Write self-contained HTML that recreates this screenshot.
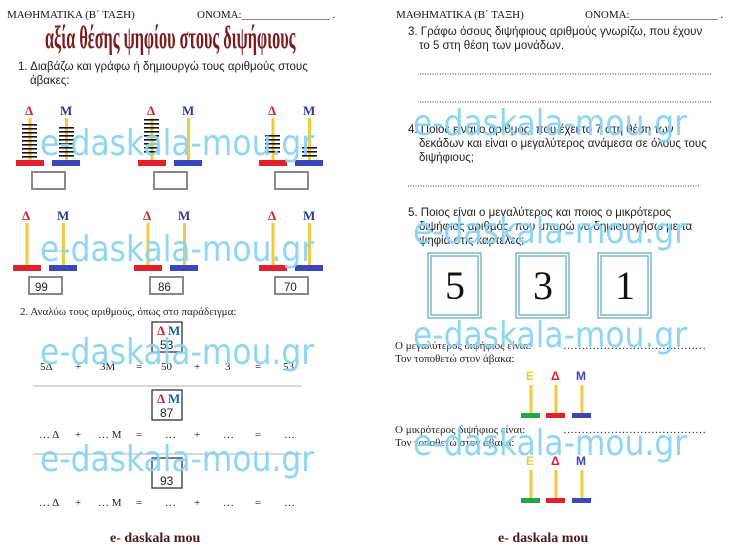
<!DOCTYPE html>
<html><head><meta charset="utf-8"><style>
html,body{margin:0;padding:0;background:#fff}
svg{display:block}
.h{font-family:"Liberation Serif",serif;font-size:11px;fill:#111}
.t{font-family:"Liberation Sans",sans-serif;font-size:11.5px;fill:#222}
.s{font-family:"Liberation Serif",serif;font-size:11px;fill:#222}
.lb{font-family:"Liberation Serif",serif;font-weight:bold;font-size:13px}
.wm{font-family:"DejaVu Sans","Liberation Sans",sans-serif;font-size:36px;fill:#8ad4f2;opacity:.95}
.ft{font-family:"Liberation Serif",serif;font-weight:bold;font-size:14px;fill:#4a1a1a}
</style></head><body>
<svg width="746" height="555" viewBox="0 0 746 555" xmlns="http://www.w3.org/2000/svg">
<defs>
<g id="abase">
 <rect x="-1.5" y="0" width="3" height="42" fill="#f5c93a"/>
 <rect x="35" y="0" width="3" height="42" fill="#f5c93a"/>
 <rect x="-14" y="42" width="28" height="6" fill="#e0202e"/>
 <rect x="22" y="42" width="28" height="6" fill="#3b46b8"/>
 <text x="-5" y="-3" class="lb" fill="#d0202e">Δ</text>
 <text x="30" y="-3" class="lb" fill="#2b3a9c">Μ</text>
</g>
<g id="bead"><rect x="-8" y="0" width="15" height="1.6" fill="#111"/></g>
</defs>

<!-- LEFT PAGE -->
<text x="7" y="18" class="h">ΜΑΘΗΜΑΤΙΚΑ (Β΄ ΤΑΞΗ)</text>
<text x="197" y="18" class="h">ΟΝΟΜΑ:________________ .</text>
<text x="0" y="0" transform="translate(45,48) scale(0.54,1.05)" font-family="Liberation Serif,serif" font-weight="bold" font-size="30" fill="#7a1a1a">αξία θέσης ψηφίου στους διψήφιους</text>
<text x="18" y="70" class="t">1. Διαβάζω και γράφω ή δημιουργώ τους αριθμούς στους</text>
<text x="30" y="84" class="t">άβακες:</text>

<!-- row 1 abacuses -->
<g transform="translate(30,118)"><use href="#abase"/>
 <g><use href="#bead" y="6"/><use href="#bead" y="10"/><use href="#bead" y="14"/><use href="#bead" y="18"/><use href="#bead" y="22"/><use href="#bead" y="26"/><use href="#bead" y="30"/><use href="#bead" y="34"/><use href="#bead" y="38"/></g>
 <g transform="translate(37,0)"><use href="#bead" y="9"/><use href="#bead" y="13"/><use href="#bead" y="17"/><use href="#bead" y="21"/><use href="#bead" y="25"/><use href="#bead" y="29"/><use href="#bead" y="33"/><use href="#bead" y="37"/></g>
</g>
<rect x="32" y="172" width="33" height="17" fill="none" stroke="#888" stroke-width="2"/>
<g transform="translate(152,118)"><use href="#abase"/>
 <g><use href="#bead" y="1"/><use href="#bead" y="5"/><use href="#bead" y="9"/><use href="#bead" y="13"/><use href="#bead" y="17"/><use href="#bead" y="21"/><use href="#bead" y="25"/><use href="#bead" y="29"/><use href="#bead" y="33"/></g>
</g>
<rect x="154" y="172" width="33" height="17" fill="none" stroke="#888" stroke-width="2"/>
<g transform="translate(273,118)"><use href="#abase"/>
 <g><use href="#bead" y="17"/><use href="#bead" y="21"/><use href="#bead" y="25"/><use href="#bead" y="29"/><use href="#bead" y="33"/></g>
 <g transform="translate(37,0)"><use href="#bead" y="29"/><use href="#bead" y="33"/><use href="#bead" y="37"/></g>
</g>
<rect x="275" y="172" width="33" height="17" fill="none" stroke="#888" stroke-width="2"/>

<!-- row 2 -->
<g transform="translate(27,223)"><use href="#abase"/></g>
<rect x="29" y="277" width="33" height="17" fill="none" stroke="#888" stroke-width="2"/>
<text x="35" y="291" class="t" font-size="13">99</text>
<g transform="translate(148,223)"><use href="#abase"/></g>
<rect x="150" y="277" width="33" height="17" fill="none" stroke="#888" stroke-width="2"/>
<text x="158" y="291" class="t" font-size="13">86</text>
<g transform="translate(273,223)"><use href="#abase"/></g>
<rect x="275" y="277" width="33" height="17" fill="none" stroke="#888" stroke-width="2"/>
<text x="284" y="291" class="t" font-size="13">70</text>

<text x="20" y="315" class="s" font-size="12">2. Αναλύω τους αριθμούς, όπως στο παράδειγμα:</text>

<g font-family="Liberation Sans,sans-serif" font-size="12" fill="#222">
<rect x="152" y="322" width="30" height="30" fill="#fff" stroke="#333" stroke-width="1.3"/>
<text x="157" y="335" class="lb" font-size="12" fill="#d0202e">Δ</text><text x="168" y="335" class="lb" font-size="12" fill="#1a5ea8">Μ</text>
<text x="160" y="349">53</text>
<g font-family="Liberation Serif,serif" font-size="11"><text x="40" y="370">5Δ</text><text x="75" y="370">+</text><text x="100" y="370">3Μ</text><text x="136" y="370">=</text><text x="161" y="370">50</text><text x="194" y="370">+</text><text x="225" y="370">3</text><text x="255" y="370">=</text><text x="283" y="370">53</text></g>
<line x1="33" y1="386" x2="302" y2="386" stroke="#ccc" stroke-width="1.5"/>
<rect x="152" y="390" width="30" height="30" fill="#fff" stroke="#333" stroke-width="1.3"/>
<text x="157" y="403" class="lb" font-size="12" fill="#d0202e">Δ</text><text x="168" y="403" class="lb" font-size="12" fill="#1a5ea8">Μ</text>
<text x="160" y="417">87</text>
<g font-family="Liberation Serif,serif" font-size="11"><text x="39" y="438">… Δ</text><text x="75" y="438">+</text><text x="98" y="438">… Μ</text><text x="136" y="438">=</text><text x="165" y="438">…</text><text x="194" y="438">+</text><text x="223" y="438">…</text><text x="255" y="438">=</text><text x="284" y="438">…</text></g>
<line x1="33" y1="454" x2="302" y2="454" stroke="#ccc" stroke-width="1.5"/>
<rect x="152" y="458" width="30" height="30" fill="#fff" stroke="#333" stroke-width="1.3"/>
<text x="160" y="485">93</text>
<g font-family="Liberation Serif,serif" font-size="11"><text x="39" y="506">… Δ</text><text x="75" y="506">+</text><text x="98" y="506">… Μ</text><text x="136" y="506">=</text><text x="165" y="506">…</text><text x="194" y="506">+</text><text x="223" y="506">…</text><text x="255" y="506">=</text><text x="284" y="506">…</text></g>
</g>
<text x="110" y="542" class="ft">e- daskala mou</text>

<!-- RIGHT PAGE -->
<text x="396" y="18" class="h">ΜΑΘΗΜΑΤΙΚΑ (Β΄ ΤΑΞΗ)</text>
<text x="585" y="18" class="h">ΟΝΟΜΑ:________________ .</text>
<text x="408" y="35" class="t">3. Γράφω όσους διψήφιους αριθμούς γνωρίζω, που έχουν</text>
<text x="419" y="49" class="t">το 5 στη θέση των μονάδων.</text>
<line x1="420" y1="74" x2="712" y2="74" stroke="#333" stroke-width="1" stroke-dasharray="1,1.5"/>
<line x1="420" y1="102" x2="712" y2="102" stroke="#333" stroke-width="1" stroke-dasharray="1,1.5"/>
<text x="408" y="133" class="t">4. Ποιος είναι ο αριθμός, που έχει το 7 στη θέση των</text>
<text x="419" y="147" class="t">δεκάδων και είναι ο μεγαλύτερος ανάμεσα σε όλους τους</text>
<text x="419" y="161" class="t">διψήφιους;</text>
<line x1="408" y1="186" x2="700" y2="186" stroke="#333" stroke-width="1" stroke-dasharray="1,1.5"/>
<text x="408" y="216" class="t">5. Ποιος είναι ο μεγαλύτερος και ποιος ο μικρότερος</text>
<text x="419" y="230" class="t">διψήφιος αριθμός, που μπορώ να δημιουργήσω με τα</text>
<text x="419" y="244" class="t">ψηφία στις καρτέλες;</text>
<g fill="#fff" stroke="#7fb8cc" stroke-width="1.5">
<rect x="428" y="253" width="53" height="65"/><rect x="431" y="256" width="47" height="59"/>
<rect x="516" y="253" width="53" height="65"/><rect x="519" y="256" width="47" height="59"/>
<rect x="598" y="253" width="53" height="65"/><rect x="601" y="256" width="47" height="59"/>
</g>
<g font-family="Liberation Serif,serif" font-size="40" fill="#111" text-anchor="middle">
<text x="455" y="299">5</text><text x="543" y="299">3</text><text x="625" y="299">1</text></g>
<text x="395" y="349" class="s">Ο μεγαλύτερος διψήφιος είναι:</text>
<text x="563" y="349" class="s">…………………………………</text>
<text x="395" y="362" class="s">Τον τοποθετώ στον άβακα:</text>
<text x="395" y="433" class="s">Ο μικρότερος διψήφιος είναι:</text>
<text x="563" y="433" class="s">…………………………………</text>
<text x="395" y="446" class="s">Τον τοποθετώ στον άβακα:</text>
<g id="ab3" font-family="Liberation Sans,sans-serif" font-weight="bold" font-size="12">
 <text x="526" y="380" fill="#f5c93a">Ε</text><text x="551" y="380" fill="#e0202e">Δ</text><text x="576" y="380" fill="#3b46b8">Μ</text>
 <rect x="529.5" y="385" width="3" height="28" fill="#f5c93a"/><rect x="554.5" y="385" width="3" height="28" fill="#f5c93a"/><rect x="580.5" y="385" width="3" height="28" fill="#f5c93a"/>
 <rect x="521" y="413" width="19" height="5" fill="#1ea845"/><rect x="546" y="413" width="19" height="5" fill="#e0202e"/><rect x="572" y="413" width="19" height="5" fill="#3b46b8"/>
</g>
<use href="#ab3" y="85"/>
<text x="498" y="542" class="ft">e- daskala mou</text>

<!-- watermarks -->
<g class="wm">
<text transform="translate(40,155) scale(0.87,1)">e-daskala-mou.gr</text>
<text transform="translate(40,261) scale(0.87,1)">e-daskala-mou.gr</text>
<text transform="translate(40,364) scale(0.87,1)">e-daskala-mou.gr</text>
<text transform="translate(40,471) scale(0.87,1)">e-daskala-mou.gr</text>
<text transform="translate(413,135) scale(0.87,1)">e-daskala-mou.gr</text>
<text transform="translate(413,243) scale(0.87,1)">e-daskala-mou.gr</text>
<text transform="translate(413,347) scale(0.87,1)">e-daskala-mou.gr</text>
<text transform="translate(413,455) scale(0.87,1)">e-daskala-mou.gr</text>
</g>
</svg>
</body></html>
